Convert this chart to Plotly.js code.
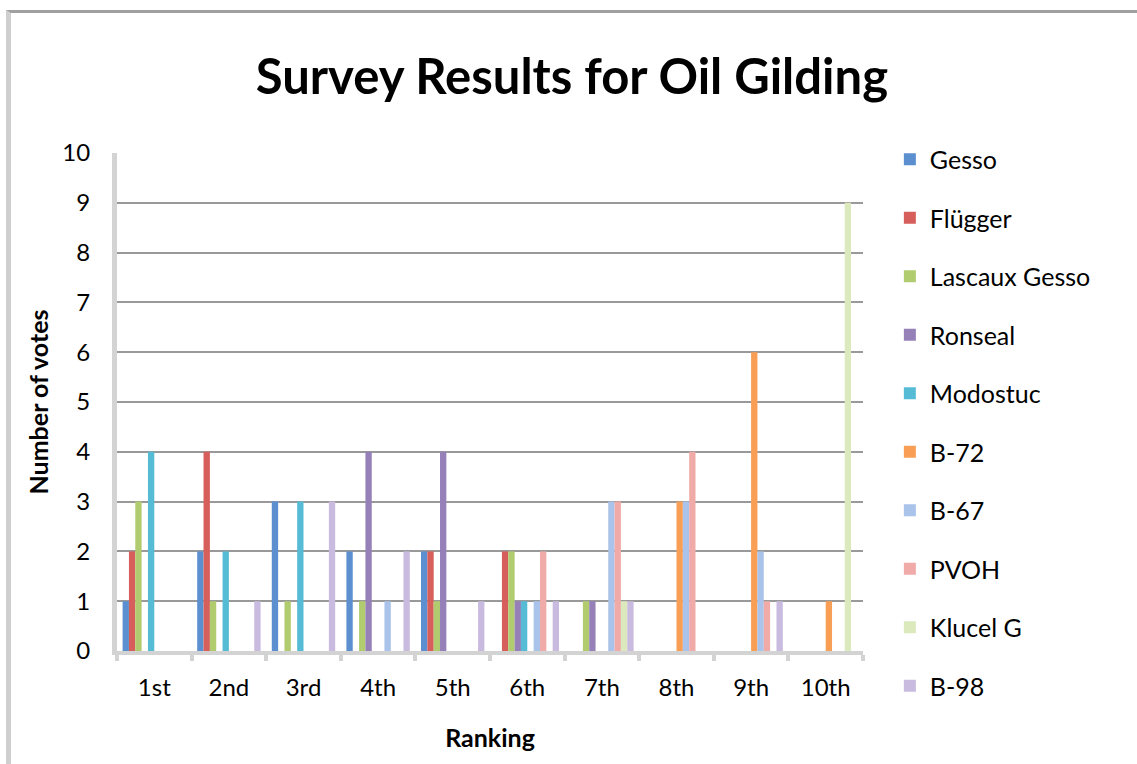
<!DOCTYPE html>
<html>
<head>
<meta charset="utf-8">
<script src="https://cdn.plot.ly/plotly-3.0.1.min.js"></script>
<style>
  html, body { margin: 0; padding: 0; background: #fff; }
  #chart { width: 1137px; height: 764px; }
  #frame { position: absolute; left: 6px; top: 10px; width: 1140px; height: 760px;
           border-top: 3px solid #a0a0a0; border-left: 5px solid #cfcfcf; pointer-events: none; }
</style>
</head>
<body>
<div id="chart"></div>
<div id="frame"></div>
<script>
const categories = ["1st", "2nd", "3rd", "4th", "5th", "6th", "7th", "8th", "9th", "10th"];
const seriesNames = ["Gesso", "Flügger", "Lascaux Gesso", "Ronseal", "Modostuc", "B-72", "B-67", "PVOH", "Klucel G", "B-98"];
const gesso    = [1, 2, 3, 2, 2, 0, 0, 0, 0, 0];
const flugger  = [2, 4, 0, 0, 2, 2, 0, 0, 0, 0];
const lascaux  = [3, 1, 1, 1, 1, 2, 1, 0, 0, 0];
const ronseal  = [0, 0, 0, 4, 4, 1, 1, 0, 0, 0];
const modostuc = [4, 2, 3, 0, 0, 1, 0, 0, 0, 0];
const b72      = [0, 0, 0, 0, 0, 0, 0, 3, 6, 1];
const b67      = [0, 0, 0, 1, 0, 1, 3, 3, 2, 0];
const pvoh     = [0, 0, 0, 0, 0, 2, 3, 4, 1, 0];
const klucel   = [0, 0, 0, 0, 0, 0, 1, 0, 0, 9];
const b98      = [0, 1, 3, 2, 1, 1, 1, 0, 1, 0];
const seriesValues = [gesso, flugger, lascaux, ronseal, modostuc, b72, b67, pvoh, klucel, b98];
const colors = ["#5b8fcf", "#d65f5c", "#b0cc6e", "#9680b8", "#56bcd6", "#f99e55", "#a9c3ea", "#f0aaa8", "#dbe9bd", "#c9bbdf"];

const traces = seriesNames.map((name, i) => ({
  type: "bar",
  name: name,
  x: categories,
  y: seriesValues[i],
  marker: { color: colors[i] },
  legendgroup: "g" + i
}));

const font = "Lato, 'Open Sans', 'DejaVu Sans', sans-serif";

const layout = {
  width: 1137,
  height: 764,
  margin: { l: 117, r: 274, t: 153, b: 113 },
  paper_bgcolor: "#ffffff",
  plot_bgcolor: "#ffffff",
  barmode: "group",
  bargap: 0.15,
  bargroupgap: 0,
  font: { family: font, color: "#000", size: 24 },
  title: {
    text: "<b>Survey Results for Oil Gilding</b>",
    font: { family: font, size: 49, color: "#000" },
    x: 0.503, xref: "container", xanchor: "center",
    y: 0.899, yref: "container", yanchor: "middle"
  },
  xaxis: {
    type: "category",
    showgrid: false,
    showline: true, linecolor: "#d3d3d3", linewidth: 4,
    ticks: "outside", tickson: "boundaries", ticklen: 6, tickwidth: 4, tickcolor: "#d3d3d3",
    ticklabelstandoff: 12,
    tickfont: { family: font, size: 24, color: "#000" },
    title: { text: "<b>Ranking</b>", font: { family: font, size: 25, color: "#000" }, standoff: 31 }
  },
  yaxis: {
    range: [0, 10], dtick: 1,
    showgrid: true, gridcolor: "#999999", gridwidth: 2,
    zeroline: false,
    showline: true, linecolor: "#d3d3d3", linewidth: 5,
    ticks: "", ticklabelstandoff: 17,
    tickfont: { family: font, size: 24, color: "#000" },
    title: { text: "<b>Number of votes</b>", font: { family: font, size: 25, color: "#000" }, standoff: 8 }
  },
  legend: {
    x: 1.036, xanchor: "left", y: 1.033, yanchor: "top",
    font: { family: font, size: 25, color: "#000" },
    traceorder: "grouped", tracegroupgap: 23,
    itemwidth: 30,
    maxheight: 740
  },
  showlegend: true
};

Plotly.newPlot("chart", traces, layout, { displayModeBar: false, staticPlot: true });
</script>
</body>
</html>
